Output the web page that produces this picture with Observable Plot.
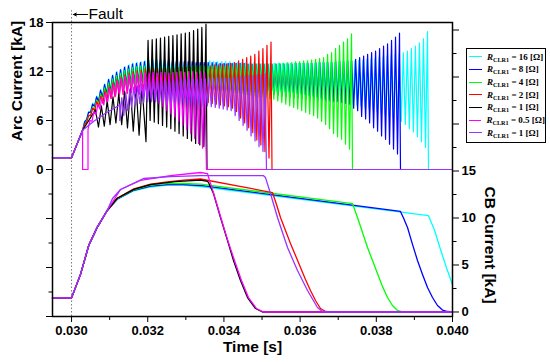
<!DOCTYPE html>
<html><head><meta charset="utf-8">
<script src="https://cdn.jsdelivr.net/npm/d3@7"></script>
<script src="https://cdn.jsdelivr.net/npm/@observablehq/plot@0.6"></script>
<style>
body{margin:0;background:#fff;}
#wrap{position:relative;width:550px;height:364px;}
#legend{position:absolute;left:466px;top:48px;width:80px;height:95px;border:1px solid #000;background:#fff;box-sizing:border-box;padding-top:1.5px;font-family:"Liberation Serif","Times New Roman",serif;font-weight:bold;font-size:9px;color:#000;}
.row{height:12.7px;display:flex;align-items:center;white-space:nowrap;}
.sw{width:13px;height:0;border-top:1.6px solid;margin-left:2px;margin-right:5px;}
.row sub{font-size:6.2px;vertical-align:-1.5px;}
.ytitle{position:absolute;white-space:nowrap;font-family:"Liberation Sans",Arial,sans-serif;font-weight:bold;font-size:15.5px;color:#000;line-height:1;}
</style></head><body><div id="wrap"></div>
<script>
// ---------- axes / layout values ----------
const xDomain = [0.0295, 0.040];
const arcDomain = [-18, 18];
const cbDomain = [-0.48, 30.8];
const xMajorTicks = [0.030, 0.032, 0.034, 0.036, 0.038, 0.040];
const xMinorTicks = [0.031, 0.033, 0.035, 0.037, 0.039];
const arcLabelTicks = [0, 6, 12, 18];
const arcMajorUnlabeled = [-18, -12, -6];
const arcMinorTicks = [-15, -9, -3, 3, 9, 15];
const cbLabelTicks = [0, 5, 10, 15];
const cbMajorUnlabeled = [20, 25, 30];
const cbMinorTicks = [2.5, 7.5, 12.5, 17.5, 22.5, 27.5];
const titles = {arc: "Arc Current [kA]", cb: "CB Current [kA]", time: "Time [s]", fault: "Fault"};

// ---------- series ----------
const seriesR = ["16", "8", "4", "2", "1", "0.5", "1"];
const seriesColors = ["#00ffff", "#0000ff", "#00ff00", "#ff0000", "#000000", "#ff00ff", "#9933ff"];

// ---------- arc current (kA) ----------
const faultTime = 0.030;
const commonLead = [[0.0295, 1.45], [0.030, 1.45], [0.03029, 4.8]];

const cyanPeaks = [5.9,7.1,8.1,9.0,9.8,10.5,11.1,11.6,12.0,12.3,12.6,12.8,13.0,13.1,13.2,13.3,13.3,13.4,13.4,13.4,13.4,13.4,13.4,13.4,13.4,13.4,13.3,13.3,13.3,13.3,13.3,13.3,13.2,13.2,13.2,13.2,13.2,13.1,13.1,13.1,13.1,13.1,13.1,13.0,13.0,13.0,13.0,13.0,13.0,13.0,13.0,13.0,13.0,13.0,13.0,13.0,13.0,13.0,13.1,13.1,13.1,13.1,13.1,13.2,13.2,13.2,13.3,13.3,13.4,13.4,13.5,13.5,13.6,13.7,13.8,13.9,14.0,14.1,14.2,14.3,14.5,14.8,15.1,15.5,16.0,16.9];
const cyanTroughs = [4.8,6.1,7.0,7.8,8.4,8.9,9.3,9.7,9.9,10.1,10.3,10.4,10.5,10.6,10.7,10.7,10.8,10.8,10.8,10.8,10.8,10.8,10.8,10.7,10.7,10.7,10.7,10.6,10.6,10.6,10.5,10.5,10.4,10.4,10.3,10.3,10.2,10.2,10.1,10.1,10.0,10.0,9.9,9.9,9.8,9.8,9.7,9.7,9.6,9.6,9.5,9.5,9.4,9.3,9.3,9.2,9.1,9.0,8.9,8.8,8.7,8.6,8.5,8.4,8.3,8.2,8.1,8.0,7.9,7.8,7.6,7.5,7.3,7.1,6.9,6.7,6.5,6.3,6.1,5.9,5.5,5.0,4.6,4.0,3.4,2.7];
const cyanTiming = [0.03029, 0.039344, 0.03937];

const bluePeaks = [5.8,7.0,8.0,8.9,9.7,10.4,11.0,11.5,11.9,12.2,12.5,12.7,12.9,13.0,13.1,13.2,13.2,13.3,13.3,13.3,13.3,13.3,13.2,13.2,13.2,13.2,13.2,13.2,13.1,13.1,13.1,13.1,13.1,13.1,13.0,13.0,13.0,13.0,13.0,13.0,13.0,12.9,12.9,12.9,12.9,12.9,12.9,12.9,12.9,12.9,12.9,12.9,12.9,13.0,13.0,13.0,13.0,13.0,13.1,13.1,13.1,13.1,13.1,13.2,13.2,13.2,13.3,13.3,13.5,13.7,13.9,14.1,14.3,14.5,14.8,15.1,15.4,15.8,16.2,16.7];
const blueTroughs = [4.8,6.1,7.0,7.7,8.3,8.8,9.2,9.5,9.8,10.0,10.2,10.3,10.4,10.5,10.5,10.6,10.6,10.6,10.6,10.5,10.5,10.5,10.5,10.4,10.4,10.4,10.3,10.3,10.3,10.2,10.2,10.1,10.1,10.0,10.0,9.9,9.9,9.8,9.8,9.7,9.7,9.6,9.6,9.5,9.5,9.4,9.3,9.3,9.2,9.1,9.0,8.9,8.9,8.8,8.8,8.7,8.7,8.6,8.6,8.5,8.5,8.4,8.4,8.3,8.3,8.2,8.1,8.0,7.5,7.2,6.5,6.2,5.7,5.1,4.7,4.1,3.7,3.1,2.5,1.9];
const blueTiming = [0.03029, 0.038609, 0.038635];

const greenPeaks = [5.5,6.6,7.6,8.5,9.3,10.0,10.6,11.1,11.5,11.8,12.1,12.3,12.5,12.6,12.7,12.7,12.7,12.7,12.7,12.7,12.7,12.7,12.7,12.7,12.7,12.7,12.7,12.7,12.7,12.7,12.7,12.7,12.7,12.7,12.7,12.7,12.7,12.7,12.8,12.8,12.8,12.8,12.8,12.9,12.9,12.9,12.9,12.9,12.9,13.0,13.0,13.1,13.1,13.2,13.2,13.3,13.3,13.4,13.5,13.6,13.7,14.1,14.3,14.8,15.2,15.6,16.0,16.6];
const greenTroughs = [4.8,5.9,6.7,7.4,8.0,8.5,8.9,9.2,9.5,9.7,9.9,10.0,10.1,10.2,10.2,10.2,10.2,10.2,10.2,10.2,10.2,10.2,10.1,10.1,10.1,10.1,10.0,10.0,10.0,10.0,9.9,9.9,9.9,9.8,9.7,9.7,9.6,9.5,9.4,9.4,9.3,9.2,9.1,9.0,8.9,8.9,8.8,8.7,8.6,8.4,8.2,8.0,7.8,7.6,7.4,7.2,7.0,6.8,6.6,6.3,5.9,5.5,5.0,4.4,4.0,3.7,3.1,2.5];
const greenTiming = [0.03029, 0.037349, 0.037375];

const redPeaks = [5.5,6.6,7.5,8.3,9.0,9.6,10.1,10.6,11.0,11.3,11.6,11.8,12.0,12.1,12.2,12.3,12.4,12.4,12.4,12.4,12.4,12.4,12.4,12.5,12.5,12.5,12.5,12.6,12.6,12.6,12.7,12.7,12.8,12.8,12.9,12.9,13.0,13.1,13.3,13.5,13.7,13.9,14.1,14.5,14.8,15.2,15.6];
const redTroughs = [4.8,5.8,6.6,7.2,7.7,8.1,8.4,8.7,8.9,9.1,9.2,9.3,9.4,9.4,9.4,9.4,9.4,9.4,9.3,9.3,9.2,9.2,9.1,9.0,8.9,8.8,8.7,8.6,8.5,8.4,8.3,8.2,8.1,8.0,7.9,7.8,7.7,7.5,7.1,6.3,5.7,5.1,4.5,3.6,3.0,2.2,1.4];
const redTiming = [0.03029, 0.035236, 0.035262];

const blackLead = [[0.030628, 7.3]];
const blackPeaks1 = [7.8,8.4,8.9,9.3,9.6,9.9,10.1,10.3];
const blackTroughs1 = [5.2,5.3,5.5,5.7,5.5,5.1,4.7,4.2];
const blackTiming1 = [0.030707, 0.031849];
const blackPeaks2 = [15.8,15.9,16.0,16.1,16.2,16.3,16.4,16.5,16.6,16.7,16.8,17.0,17.2,17.4,17.8];
const blackTroughs2 = [3.4,6.0,5.8,5.6,5.4,5.2,5.0,4.7,4.4,4.1,3.8,3.5,3.2,3.0,2.8];
const blackTiming2 = [0.031954, 0.033529, 0.033556];

const magentaNotch = [[0.03029, 0], [0.030432, 0]];
const magentaPeaks = [6.0,7.1,8.0,8.8,9.4,10.0,10.5,10.9,11.2,11.4,11.6,11.7,11.8,11.8,11.8,11.8,11.9,11.8,11.9,11.9,11.8,11.9,11.9,12.0,11.9,12.0,12.0,11.9,12.0,12.0];
const magentaTroughs = [4.9,5.9,6.7,7.4,7.9,8.3,8.7,9.0,9.2,9.3,9.4,9.4,9.3,9.2,9.0,8.9,8.7,8.5,8.1,7.7,7.2,6.8,6.4,5.9,5.4,4.9,4.4,3.8,3.2,2.6];
const magentaTiming = [0.030432, 0.03349, 0.033542];

const purpleLead = [[0.030584, 5.9], [0.030891, 6.9], [0.031267, 7.9]];
const purplePeaks = [8.8,9.4,9.8,10.1,10.3,10.5,10.6,10.7,10.8,10.8,10.8,10.9,10.9,10.9,10.9,11.0,11.0,11.0,11.0,11.0,11.1,11.1,11.1,11.1,11.2,11.2,11.2,11.2,11.3,11.3,11.4,11.4,11.5,11.5,11.6,11.6,11.7];
const purpleTroughs = [6.0,6.6,7.2,7.6,7.9,8.1,8.2,8.3,8.3,8.3,8.3,8.3,8.2,8.2,8.2,8.1,8.1,8.0,8.0,7.9,7.9,7.8,7.8,7.7,7.6,7.5,7.4,7.3,7.2,6.6,6.0,5.4,4.8,4.1,3.5,2.8,2.2];
const purpleTiming = [0.031267, 0.035078, 0.035117];

// ---------- CB current (kA) ----------
const cbCommon = [[0.0295,1.5],[0.030,1.5],[0.030235,4.0],[0.030453,7.1],[0.030673,9.0],[0.030936,10.8]];
const cyanCB = [[0.031198,12.0],[0.031634,12.9],[0.032072,13.3],[0.032511,13.5],[0.032939,13.5],[0.033385,13.35],[0.039370,10.25],[0.039528,8.7],[0.039685,6.65],[0.039842,4.7],[0.040,2.9]];
const blueCB = [[0.031198,12.0],[0.031634,12.95],[0.032072,13.4],[0.032511,13.55],[0.032939,13.56],[0.033385,13.46],[0.038635,10.7],[0.038714,10.0],[0.038819,8.99],[0.038950,7.2],[0.039081,5.48],[0.039213,3.99],[0.039344,2.6],[0.039475,1.54],[0.039606,0.69],[0.039737,0.21],[0.039869,0.05],[0.040,0]];
const greenCB = [[0.031198,12.05],[0.031634,13.0],[0.032072,13.5],[0.032511,13.65],[0.032939,13.67],[0.033385,13.6],[0.037375,11.54],[0.037506,10.05],[0.037638,8.46],[0.037769,6.86],[0.037900,5.48],[0.038031,4.1],[0.038163,2.7],[0.038294,1.54],[0.038425,0.69],[0.038556,0.16],[0.038687,0],[0.040,0]];
const redCB = [[0.031198,12.1],[0.031634,13.1],[0.032072,13.6],[0.032511,13.85],[0.032939,14.04],[0.033385,14.15],[0.035275,12.71],[0.035380,11.44],[0.035485,10.05],[0.035616,8.67],[0.035747,7.29],[0.035879,6.01],[0.036010,4.73],[0.036141,3.46],[0.036272,2.29],[0.036404,1.22],[0.036535,0.37],[0.036666,0.05],[0.036797,0],[0.040,0]];
const blackCB = [[0.031198,12.1],[0.031634,13.05],[0.032072,13.56],[0.032728,13.88],[0.033385,14.04],[0.033569,13.9],[0.033595,13.78],[0.033726,12.6],[0.033910,10.05],[0.034094,7.6],[0.034251,5.48],[0.034435,3.35],[0.034619,1.54],[0.034829,0.37],[0.035012,0],[0.040,0]];
const magentaCB = [[0.031285,13.03],[0.031810,14.0],[0.032597,14.5],[0.033385,14.84],[0.033569,14.73],[0.033621,14.0],[0.033726,12.7],[0.033910,10.16],[0.034094,7.7],[0.034277,5.48],[0.034461,3.35],[0.034645,1.54],[0.034855,0.37],[0.035039,0],[0.040,0]];
const purpleCB = [[0.031075,12.07],[0.031285,13.03],[0.031889,14.2],[0.032597,14.4],[0.033385,14.5],[0.035039,14.5],[0.035091,14.3],[0.035222,12.6],[0.035406,10.05],[0.035669,6.86],[0.035931,4.41],[0.036194,2.29],[0.036456,0.48],[0.036587,0.05],[0.036719,0],[0.040,0]];

// ---------- build ----------
function zigzag(ts, tLast, peaks, troughs) {
  const n = peaks.length, P = (tLast - ts) / (n - 0.5), pts = [];
  for (let i = 0; i < n; i++) { pts.push([ts + i * P, troughs[i]]); pts.push([ts + (i + 0.5) * P, peaks[i]]); }
  return pts;
}
const end = tz => [[tz, 0], [xDomain[1], 0]];
const arcSeries = [
  [...commonLead, ...zigzag(cyanTiming[0], cyanTiming[1], cyanPeaks, cyanTroughs), ...end(cyanTiming[2])],
  [...commonLead, ...zigzag(blueTiming[0], blueTiming[1], bluePeaks, blueTroughs), ...end(blueTiming[2])],
  [...commonLead, ...zigzag(greenTiming[0], greenTiming[1], greenPeaks, greenTroughs), ...end(greenTiming[2])],
  [...commonLead, ...zigzag(redTiming[0], redTiming[1], redPeaks, redTroughs), ...end(redTiming[2])],
  [...commonLead, ...blackLead, ...zigzag(blackTiming1[0], blackTiming1[1], blackPeaks1, blackTroughs1), ...zigzag(blackTiming2[0], blackTiming2[1], blackPeaks2, blackTroughs2), ...end(blackTiming2[2])],
  [...commonLead, ...magentaNotch, ...zigzag(magentaTiming[0], magentaTiming[1], magentaPeaks, magentaTroughs), ...end(magentaTiming[2])],
  [...commonLead, ...purpleLead, ...zigzag(purpleTiming[0], purpleTiming[1], purplePeaks, purpleTroughs), ...end(purpleTiming[2])]
];
const cbSeries = [cyanCB, blueCB, greenCB, redCB, blackCB, magentaCB, purpleCB].map(s => [...cbCommon, ...s]);

const cbToArc = d3.scaleLinear().domain(cbDomain).range(arcDomain);
const cbLabelPos = cbLabelTicks.map(cbToArc);
const cbLabelMap = new Map(cbLabelPos.map((p, i) => [p, String(cbLabelTicks[i])]));
const blank = () => "";

const marks = [
  Plot.ruleX([faultTime], {y1: arcDomain[0], y2: 19.45, stroke: "#777", strokeWidth: 1, strokeDasharray: "1.5,2"}),
];
cbSeries.forEach((s, i) => marks.push(Plot.line(s, {x: d => d[0], y: d => cbToArc(d[1]), stroke: seriesColors[i], strokeWidth: 1.3})));
arcSeries.forEach((s, i) => marks.push(Plot.line(s, {x: d => d[0], y: d => d[1], stroke: seriesColors[i], strokeWidth: 1.2})));
marks.push(
  Plot.frame({stroke: "#000", strokeWidth: 1.5}),
  Plot.axisX(xMajorTicks, {tickSize: 6, tickFormat: d3.format(".3f"), label: null}),
  Plot.axisX(xMinorTicks, {tickSize: 4, tickFormat: blank, label: null}),
  Plot.axisY(arcLabelTicks, {anchor: "left", tickSize: 6, tickFormat: d => String(d), label: null}),
  Plot.axisY(arcMajorUnlabeled, {anchor: "left", tickSize: 6, tickFormat: blank, label: null}),
  Plot.axisY(arcMinorTicks, {anchor: "left", tickSize: 3.5, tickFormat: blank, label: null}),
  Plot.axisY(cbLabelPos, {anchor: "right", tickSize: 6, tickFormat: d => cbLabelMap.get(d), label: null}),
  Plot.axisY(cbMajorUnlabeled.map(cbToArc), {anchor: "right", tickSize: 6, tickFormat: blank, label: null}),
  Plot.axisY(cbMinorTicks.map(cbToArc), {anchor: "right", tickSize: 3.5, tickFormat: blank, label: null}),
  Plot.text([titles.time], {frameAnchor: "bottom", dy: 35, fontSize: 15.5, fontWeight: "bold"}),
  Plot.arrow([0], {x1: () => 0.03042, y1: () => 18.98, x2: () => 0.03005, y2: () => 18.98, stroke: "#000", strokeWidth: 1, headLength: 5, headAngle: 50}),
  Plot.text([titles.fault], {x: () => 0.030445, y: () => 18.98, textAnchor: "start", fontSize: 15.5, fontWeight: "normal"})
);

const chart = Plot.plot({
  width: 550, height: 364,
  marginLeft: 52, marginRight: 98, marginTop: 22, marginBottom: 48,
  x: {domain: xDomain},
  y: {domain: arcDomain},
  style: {fontFamily: "'Liberation Sans', Arial, sans-serif", fontSize: "13px", fontWeight: "bold", background: "#fff", color: "#000"},
  marks
});
const wrap = document.getElementById("wrap");
wrap.appendChild(chart);

// rotated axis titles, positioned with the chart's own y scale
const yScale = chart.scale("y");
function addTitle(text, cx, cyValue, deg) {
  const el = document.createElement("div");
  el.className = "ytitle";
  el.textContent = text;
  wrap.appendChild(el);
  const cy = yScale.apply(cyValue);
  el.style.left = cx + "px";
  el.style.top = cy + "px";
  el.style.transform = `translate(-50%,-50%) rotate(${deg}deg)`;
}
addTitle(titles.arc, 17, 10.8, -90);
addTitle(titles.cb, 490, -9.3, 90);

const legend = document.createElement("div");
legend.id = "legend";
seriesR.forEach((r, i) => {
  const row = document.createElement("div");
  row.className = "row";
  row.innerHTML = `<span class="sw" style="border-color:${seriesColors[i]}"></span><span><i>R</i><sub>CLR1</sub> = ${r} [Ω]</span>`;
  legend.appendChild(row);
});
wrap.appendChild(legend);
</script></body></html>
